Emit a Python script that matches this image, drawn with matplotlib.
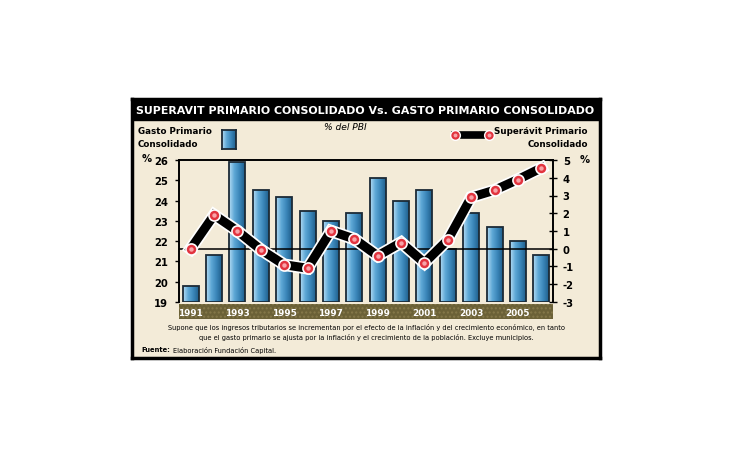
import numpy as np
import matplotlib
matplotlib.use("Agg")
import matplotlib.pyplot as plt
from matplotlib.patches import Rectangle
from matplotlib.colors import LinearSegmentedColormap
import matplotlib.patheffects as pe

years = list(range(1991, 2007))
gasto = [19.8, 21.3, 25.9, 24.5, 24.2, 23.5, 23.0, 23.4, 25.1, 24.0, 24.5, 21.6, 23.4, 22.7, 22.0, 21.3]
superavit = [0.0, 1.9, 1.0, -0.05, -0.9, -1.1, 1.0, 0.55, -0.4, 0.35, -0.8, 0.5, 2.9, 3.3, 3.9, 4.55]
left_ticks = [19, 20, 21, 22, 23, 24, 25, 26]
right_ticks = [-3, -2, -1, 0, 1, 2, 3, 4, 5]
xlabels = [1991, 1993, 1995, 1997, 1999, 2001, 2003, 2005]

W, H = 730, 460
BG = "#f3ebd8"
fig = plt.figure(figsize=(7.3, 4.6), dpi=100)
fig.patch.set_facecolor("white")

def fx(x): return x / W
def fy(y): return 1 - y / H

# panel and frame
panel = fig.add_axes([fx(132), fy(359), fx(600 - 132), (359 - 100) / H])
panel.set_xlim(0, 1); panel.set_ylim(0, 1)
panel.set_facecolor(BG)
for s in panel.spines.values():
    s.set_linewidth(2.5); s.set_color("black")
panel.set_xticks([]); panel.set_yticks([])
panel.add_patch(Rectangle((0, 1 - 21 / 259), 1, 21 / 259, transform=panel.transAxes, color="black"))
fig.text(fx(365), fy(110.5), "SUPERAVIT PRIMARIO CONSOLIDADO Vs. GASTO PRIMARIO CONSOLIDADO",
         color="white", fontsize=7.9, fontweight="bold", ha="center", va="center", family="DejaVu Sans")

cmap = LinearSegmentedColormap.from_list("b", ["#b4dcf4", "#5ea8d6", "#3a85b8", "#1f5f8c"])
grad = np.linspace(0, 1, 64).reshape(1, -1)

ax = fig.add_axes([fx(179), fy(303), fx(553 - 179), (303 - 161) / H])
ax.set_facecolor("none")
bw = 0.68
for yr, v in zip(years, gasto):
    r = Rectangle((yr - bw / 2, 19), bw, v - 19, facecolor="none", edgecolor="#1b2a36", lw=1.3, zorder=3)
    ax.add_patch(r)
    im = ax.imshow(grad, extent=[yr - bw / 2, yr + bw / 2, 19, v], aspect="auto", cmap=cmap, zorder=2)
    im.set_clip_path(r)
ax.set_xlim(1990.5, 2006.5)
ax.set_ylim(19, 26)
ax.set_yticks(left_ticks)
ax.set_yticklabels([str(t) for t in left_ticks], fontsize=7.2, fontweight="bold")
ax.tick_params(axis="y", direction="out", length=3, width=1, pad=5)
ax.set_xticks([])
for s in ["top", "left", "right"]:
    ax.spines[s].set_linewidth(1.2)
ax.spines["bottom"].set_visible(False)

ax2 = ax.twinx()
ax2.set_ylim(-3, 5)
ax2.set_yticks(right_ticks)
ax2.set_yticklabels([str(t) for t in right_ticks], fontsize=7.2, fontweight="bold")
ax2.tick_params(axis="y", direction="inout", length=6, width=1, pad=4)
ax2.axhline(0, color="black", lw=1.1, zorder=4)
ax2.plot(years, superavit, color="black", lw=6.5, solid_joinstyle="miter", zorder=5,
         path_effects=[pe.Stroke(linewidth=9, foreground="white"), pe.Normal()])
ax2.plot(years, superavit, "o", ms=8, mfc="#e2343f", mec="white", mew=1.2, zorder=6)
ax2.plot(years, superavit, "o", ms=3.2, mfc="#f7a3a8", mec="none", zorder=7)
for s in ax2.spines.values():
    s.set_linewidth(1.2)
ax2.spines["bottom"].set_visible(False)

# x band
bx = fig.add_axes([fx(179), fy(320), fx(553 - 179), (320 - 305) / H])
bx.set_xlim(1990.5, 2006.5); bx.set_ylim(0, 1)
bx.set_facecolor("#6b6137")
bx.add_patch(Rectangle((0, 0), 1, 1, transform=bx.transAxes, facecolor="none",
                       hatch="....", edgecolor="#86794a", lw=0))
for s in bx.spines.values():
    s.set_visible(False)
bx.set_xticks([]); bx.set_yticks([])
for yl in xlabels:
    bx.text(yl, 0.45, str(yl), color="white", fontsize=6.4, fontweight="bold", ha="center", va="center")

# headers
fig.text(fx(138), fy(138), "Gasto Primario\nConsolidado", fontsize=6.3, fontweight="bold",
         ha="left", va="center", linespacing=1.45)
sq = fig.add_axes([fx(222), fy(150), fx(14), 19 / H])
sq.imshow(grad, aspect="auto", cmap=cmap, extent=[0, 1, 0, 1])
sq.set_xticks([]); sq.set_yticks([])
for s in sq.spines.values():
    s.set_linewidth(1.3); s.set_color("#1b2a36")
fig.text(fx(345), fy(127), "% del PBI", fontsize=6.6, style="italic", ha="center", va="center")
fig.text(fx(588), fy(138), "Superávit Primario\nConsolidado", fontsize=6.3, fontweight="bold",
         ha="right", va="center", multialignment="right", linespacing=1.45)
lg = fig.add_axes([fx(448), fy(144), fx(48), 16 / H])
lg.set_xlim(0, 1); lg.set_ylim(0, 1); lg.axis("off")
lg.plot([0.15, 0.85], [0.5, 0.5], color="black", lw=5.5, zorder=1)
lg.plot([0.15, 0.85], [0.5, 0.5], "o", ms=7, mfc="#e2343f", mec="white", mew=1, zorder=2)
lg.plot([0.15, 0.85], [0.5, 0.5], "o", ms=2.8, mfc="#f7a3a8", mec="none", zorder=3)
fig.text(fx(142), fy(159), "%", fontsize=7.2, fontweight="bold", ha="left", va="center")
fig.text(fx(580), fy(160), "%", fontsize=7.2, fontweight="bold", ha="left", va="center")

# notes
fig.text(fx(366), fy(328), "Supone que los ingresos tributarios se incrementan por el efecto de la inflación y del crecimiento económico, en tanto",
         fontsize=4.75, ha="center", va="center")
fig.text(fx(366), fy(338), "que el gasto primario se ajusta por la inflación y el crecimiento de la población. Excluye municipios.",
         fontsize=4.75, ha="center", va="center")
fig.text(fx(141), fy(350), "Fuente:", fontsize=4.9, fontweight="bold", ha="left", va="center")
fig.text(fx(173), fy(350), "Elaboración Fundación Capital.", fontsize=4.75, ha="left", va="center")

fig.savefig("out.png", dpi=100, facecolor="white")
